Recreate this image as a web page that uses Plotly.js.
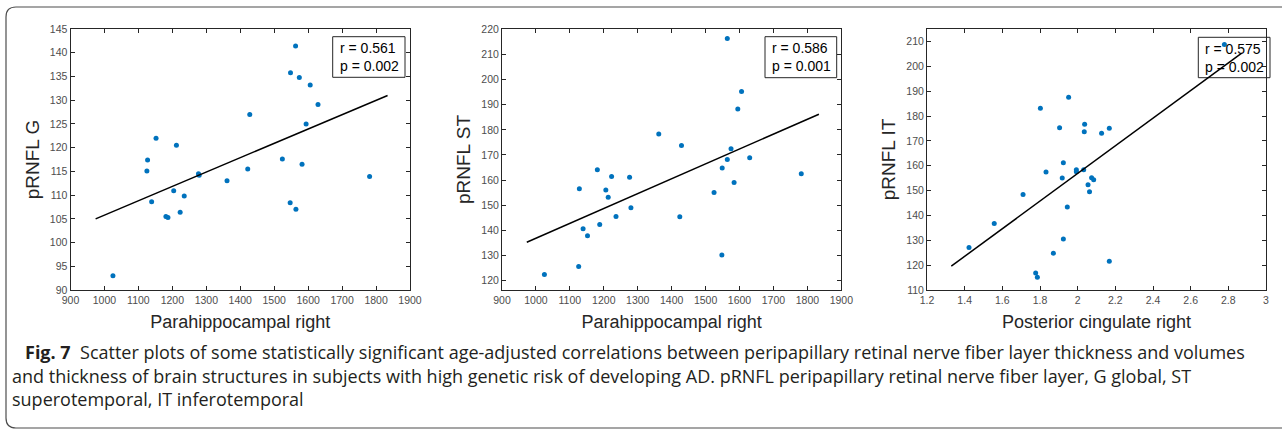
<!DOCTYPE html>
<html>
<head>
<meta charset="utf-8">
<script src="https://cdn.plot.ly/plotly-3.0.1.min.js"></script>
<style>
html,body{margin:0;padding:0;background:#fff;}
#chart{width:1282px;height:429px;}
</style>
</head>
<body>
<div id="chart"></div>
<script>
// ---- Data ----
var xTitle1 = "Parahippocampal right";
var yTitle1 = "pRNFL G";
var x1 = [1025,1125,1127,1139,1152,1181,1187,1204,1212,1223,1235,1277,1279,1361,1422,1428,1524,1547,1548,1563,1564,1574,1582,1594,1606,1629,1781];
var y1 = [93.0,115.1,117.4,108.6,122.0,105.5,105.3,110.9,120.5,106.4,109.8,114.5,114.2,113.0,115.5,127.0,117.6,108.4,135.8,141.4,107.0,134.8,116.5,125.0,133.2,129.1,113.9];
var fitX1 = [974,1834];
var fitY1 = [105.0,131.0];
var stat1 = ["r = 0.561","p = 0.002"];

var xTitle2 = "Parahippocampal right";
var yTitle2 = "pRNFL ST";
var x2 = [1025,1126,1128,1139,1152,1181,1188,1206,1213,1223,1236,1276,1280,1362,1424,1429,1525,1548,1549,1564,1564,1575,1584,1595,1606,1630,1782];
var y2 = [122.5,125.6,156.6,140.7,137.9,164.1,142.3,156.1,153.2,161.4,145.5,161.1,149.0,178.3,145.4,173.8,155.1,130.2,164.8,216.3,168.2,172.5,159.1,188.3,195.2,168.9,162.5];
var fitX2 = [973,1834];
var fitY2 = [135.3,186.2];
var stat2 = ["r = 0.586","p = 0.001"];

var xTitle3 = "Posterior cingulate right";
var yTitle3 = "pRNFL IT";
var x3 = [1.423,1.557,1.710,1.777,1.786,1.802,1.832,1.871,1.904,1.918,1.924,1.924,1.945,1.952,1.993,1.993,2.032,2.035,2.037,2.055,2.063,2.074,2.085,2.127,2.168,2.168,2.779];
var y3 = [127.1,136.8,148.4,116.8,115.1,183.1,157.5,124.8,175.3,155.1,161.2,130.5,143.4,187.5,158.4,157.6,158.4,173.7,176.7,152.3,149.5,155.2,154.4,173.1,175.1,121.6,208.8];
var fitX3 = [1.329,2.871];
var fitY3 = [119.6,205.3];
var stat3 = ["r = 0.575","p = 0.002"];

var captionLines = [
  "<b>Fig. 7</b>\u00a0\u00a0Scatter plots of some statistically significant age-adjusted correlations between peripapillary retinal nerve fiber layer thickness and volumes",
  "and thickness of brain structures in subjects with high genetic risk of developing AD. pRNFL peripapillary retinal nerve fiber layer, G global, ST",
  "superotemporal, IT inferotemporal"
];

// ---- Layout helpers (pixel -> paper) ----
var W = 1282, H = 429;
function px(x){ return x / W; }
function py(y){ return 1 - y / H; }

var blue = "#0072BD";
var axisFont = {family: "Arial, 'Liberation Sans', sans-serif", size: 10.5, color: "#4d4d4d"};
var titleFont = {family: "Arial, 'Liberation Sans', sans-serif", size: 18, color: "#262626"};

function mkAxis(domain, range, dtick, title, isY) {
  return {
    domain: domain, range: range, dtick: dtick, tick0: 0,
    showgrid: false, zeroline: false,
    showline: true, linecolor: "#262626", linewidth: 1, mirror: "ticks",
    ticks: "inside", ticklen: 4, tickwidth: 1, tickcolor: "#262626",
    tickfont: axisFont, fixedrange: true,
    title: {text: title, font: titleFont, standoff: isY ? 5 : 10}
  };
}

var yDom = [py(290), py(29)];
var panels = [
  {x: x1, y: y1, fx: fitX1, fy: fitY1, xd: [px(70.5), px(410)], xr: [900,1900], xdt: 100, yr: [90,145], ydt: 5, xt: xTitle1, yt: yTitle1, stat: stat1, box: [332.7,405,36.7,77.3]},
  {x: x2, y: y2, fx: fitX2, fy: fitY2, xd: [px(502), px(841.3)], xr: [900,1900], xdt: 100, yr: [116.3,220.1], ydt: 10, xt: xTitle2, yt: yTitle2, stat: stat2, box: [765,836.7,36.7,77.7]},
  {x: x3, y: y3, fx: fitX3, fy: fitY3, xd: [px(927), px(1266)], xr: [1.2,3], xdt: 0.2, yr: [110,215], ydt: 10, xt: xTitle3, yt: yTitle3, stat: stat3, box: [1198.3,1270,37.3,77.7]}
];

var traces = [];
var layout = {
  width: W, height: H,
  margin: {l:0, r:0, t:0, b:0},
  paper_bgcolor: "#ffffff",
  plot_bgcolor: "rgba(0,0,0,0)",
  showlegend: false,
  shapes: [],
  annotations: []
};

panels.forEach(function(p, i){
  var n = i === 0 ? "" : String(i+1);
  traces.push({
    type: "scatter", mode: "markers", x: p.x, y: p.y,
    xaxis: "x"+n, yaxis: "y"+n,
    marker: {color: blue, size: 5}, hoverinfo: "skip", cliponaxis: false
  });
  traces.push({
    type: "scatter", mode: "lines", x: p.fx, y: p.fy,
    xaxis: "x"+n, yaxis: "y"+n,
    line: {color: "#000000", width: 1.5}, hoverinfo: "skip"
  });
  var xa = mkAxis(p.xd, p.xr, p.xdt, p.xt, false);
  xa.anchor = "y"+n;
  var ya = mkAxis(yDom, p.yr, p.ydt, p.yt, true);
  ya.anchor = "x"+n;
  ya.title.font = {family: titleFont.family, size: 19, color: "#262626"};
  layout["xaxis"+n] = xa;
  layout["yaxis"+n] = ya;
  layout.shapes.push({
    type: "rect", xref: "paper", yref: "paper", layer: "below",
    x0: px(p.box[0]), x1: px(p.box[1]), y0: py(p.box[3]), y1: py(p.box[2]),
    line: {color: "#262626", width: 1}, fillcolor: "rgba(255,255,255,0)"
  });
  layout.annotations.push({
    xref: "paper", yref: "paper", x: px(p.box[0] + 5), y: py((p.box[2]+p.box[3])/2),
    xanchor: "left", yanchor: "middle", align: "left", showarrow: false,
    text: p.stat.join("<br>"),
    font: {family: "Arial, 'Liberation Sans', sans-serif", size: 14, color: "#000"}
  });
});

// outer frame (rounded left corners, open on the right)
var fx0 = 6, ft = 7, fb = 428, r = 10;
layout.shapes.push({
  type: "path", xref: "paper", yref: "paper", layer: "above",
  path: "M " + px(W+5) + "," + py(ft) +
        " L " + px(fx0 + r) + "," + py(ft) +
        " Q " + px(fx0) + "," + py(ft) + " " + px(fx0) + "," + py(ft + r) +
        " L " + px(fx0) + "," + py(fb - r) +
        " Q " + px(fx0) + "," + py(fb) + " " + px(fx0 + r) + "," + py(fb) +
        " L " + px(W+5) + "," + py(fb),
  line: {color: "#4d4d4d", width: 1.2}
});

// caption
var capFont = {family: "'Open Sans', 'Noto Sans', sans-serif", size: 18, color: "#231f20"};
var capX = [22.5, 10, 10];
var capY = [352, 376, 399];
captionLines.forEach(function(t, i){
  layout.annotations.push({
    xref: "paper", yref: "paper", x: px(capX[i]), y: py(capY[i]),
    xanchor: "left", yanchor: "middle", align: "left", showarrow: false,
    text: t, font: capFont
  });
});

Plotly.newPlot("chart", traces, layout, {displayModeBar: false, staticPlot: true});
</script>
</body>
</html>
